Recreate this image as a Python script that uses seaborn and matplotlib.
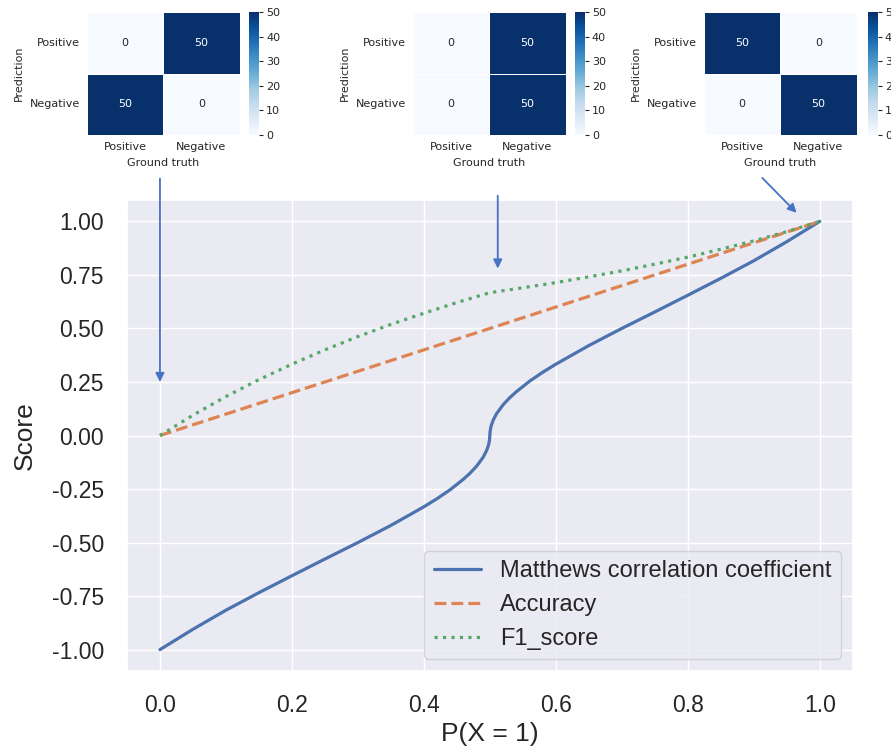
import numpy as np
import matplotlib
matplotlib.use("Agg")
import matplotlib.pyplot as plt
import seaborn as sns

# Confusion matrices (rows: prediction, columns: ground truth)
classes = ["Positive", "Negative"]
cm_low = [[0, 50], [50, 0]]
cm_mid = [[0, 50], [0, 50]]
cm_high = [[50, 0], [0, 50]]

# Metric curves against P(X = 1)
p_mcc = [0.0, 0.05, 0.1, 0.15, 0.2, 0.25, 0.3, 0.35, 0.4, 0.42, 0.44, 0.46,
         0.47, 0.48, 0.49, 0.495, 0.498, 0.4995, 0.5, 0.5005, 0.502, 0.505,
         0.51, 0.52, 0.53, 0.54, 0.56, 0.58, 0.6, 0.65, 0.7, 0.75, 0.8, 0.85,
         0.9, 0.95, 1.0]
mcc = [-1.0, -0.905, -0.816, -0.734, -0.655, -0.577, -0.5, -0.42, -0.333,
       -0.295, -0.253, -0.204, -0.176, -0.143, -0.101, -0.071, -0.045, -0.022,
       0.0, 0.022, 0.045, 0.071, 0.101, 0.143, 0.176, 0.204, 0.253, 0.295,
       0.333, 0.42, 0.5, 0.577, 0.655, 0.734, 0.816, 0.905, 1.0]

p_acc = [0.0, 0.5, 1.0]
acc = [0.0, 0.5, 1.0]

p_f1 = [0.0, 0.05, 0.1, 0.15, 0.2, 0.25, 0.3, 0.35, 0.4, 0.45, 0.5,
        0.55, 0.6, 0.65, 0.7, 0.75, 0.8, 0.85, 0.9, 0.95, 1.0]
f1 = [0.0, 0.095, 0.182, 0.261, 0.333, 0.4, 0.462, 0.519, 0.571, 0.621, 0.667,
      0.69, 0.714, 0.741, 0.769, 0.8, 0.833, 0.87, 0.909, 0.952, 1.0]

x_ticks = [0.0, 0.2, 0.4, 0.6, 0.8, 1.0]
y_ticks = [-1.0, -0.75, -0.5, -0.25, 0.0, 0.25, 0.5, 0.75, 1.0]

sns.set_theme(style="darkgrid")
plt.rcParams["font.family"] = ["Liberation Sans", "DejaVu Sans"]

fig = plt.figure(figsize=(8.91, 7.51), dpi=100)

# Main metric plot
ax = fig.add_axes([0.1425, 0.1065, 0.8145, 0.6272])
pal = sns.color_palette("deep")
lw = 2.3
sns.lineplot(x=p_mcc, y=mcc, ax=ax, color=pal[0], lw=lw,
             label="Matthews correlation coefficient")
sns.lineplot(x=p_acc, y=acc, ax=ax, color=pal[1], lw=lw, linestyle="--",
             label="Accuracy")
sns.lineplot(x=p_f1, y=f1, ax=ax, color=pal[2], lw=lw, linestyle=":",
             label="F1_score")

ax.set_xlim(-0.05, 1.05)
ax.set_ylim(-1.1, 1.1)
ax.set_xticks(x_ticks)
ax.set_xticklabels([f"{v:.1f}" for v in x_ticks])
ax.set_yticks(y_ticks)
ax.set_yticklabels([f"{v:.2f}" for v in y_ticks])
ax.tick_params(labelsize=16.5, pad=10.5)
ax.set_xlabel("P(X = 1)", fontsize=19, labelpad=4)
ax.set_ylabel("Score", fontsize=19, labelpad=10.5)
ax.legend(loc="lower right", fontsize=17)

# Arrows pointing from each confusion matrix to its position on the curves
arrow_color = "#4472c4"
arrow_kw = dict(arrowstyle="-|>", color=arrow_color, lw=1.3,
                mutation_scale=13, shrinkA=0, shrinkB=0)
for start, end in [((0.0, 1.2), (0.0, 0.25)),
                   ((0.512, 1.12), (0.512, 0.78)),
                   ((0.913, 1.203), (0.965, 1.04))]:
    ax.annotate("", xy=end, xytext=start, xycoords="data", textcoords="data",
                arrowprops=arrow_kw, annotation_clip=False)

# Confusion matrix insets
inset_font = "DejaVu Sans"
insets = [(cm_low, 0.0976, 0.2795), (cm_mid, 0.4635, 0.6453),
          (cm_high, 0.7901, 0.9742)]
for cm, hx, cx in insets:
    hax = fig.add_axes([hx, 0.8202, 0.1712, 0.1638])
    cax = fig.add_axes([cx, 0.8202, 0.0112, 0.1638])
    sns.heatmap(np.array(cm), ax=hax, cbar_ax=cax, cmap="Blues", annot=True,
                fmt="d", linewidths=0.5, linecolor="white",
                xticklabels=classes, yticklabels=classes,
                annot_kws={"size": 8, "family": inset_font})
    hax.set_xlabel("Ground truth", fontsize=8, family=inset_font)
    hax.set_ylabel("Prediction", fontsize=8, family=inset_font)
    hax.tick_params(length=3, width=0.8, labelsize=8, pad=2)
    for t in hax.get_xticklabels() + hax.get_yticklabels():
        t.set_fontfamily(inset_font)
    for t in hax.get_yticklabels():
        t.set_rotation(0)
    cax.set_yticks([0, 10, 20, 30, 40, 50])
    cax.tick_params(length=3, width=0.8, labelsize=8, pad=2)
    for t in cax.get_yticklabels():
        t.set_fontfamily(inset_font)

fig.savefig("out.png", dpi=100)
